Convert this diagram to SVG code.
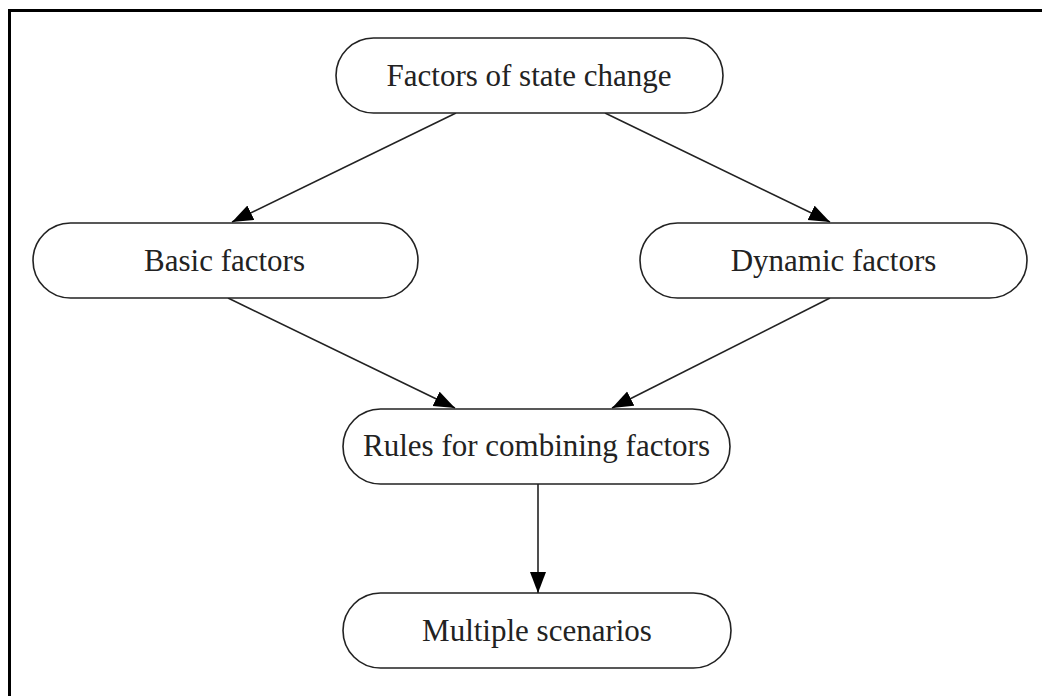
<svg xmlns="http://www.w3.org/2000/svg" width="1042" height="696" viewBox="0 0 1042 696">
  <style>
    .node rect { fill: #ffffff; stroke: #222222; stroke-width: 1.6; }
    .node text { font-family: "Liberation Serif", "Times New Roman", serif; font-size: 31px; fill: #222222; text-anchor: middle; }
    .edge { stroke: #222222; stroke-width: 1.6; fill: none; marker-end: url(#arrow); }
  </style>
  <defs>
    <marker id="arrow" markerUnits="userSpaceOnUse" markerWidth="22" markerHeight="18" refX="21" refY="8" orient="auto">
      <path d="M0,0 L21,8 L0,16 Z" fill="#000000"/>
    </marker>
  </defs>

  <rect width="1042" height="696" fill="#ffffff"/>
  <!-- frame: top and left edges -->
  <path d="M9.5,696 V10.5 H1042" fill="none" stroke="#000000" stroke-width="3"/>

  <g id="connectors">
    <line class="edge" x1="456" y1="113" x2="232" y2="222"/>
    <line class="edge" x1="605" y1="113" x2="830" y2="222"/>
    <line class="edge" x1="228" y1="298" x2="455" y2="408"/>
    <line class="edge" x1="830" y1="298" x2="612" y2="408"/>
    <line class="edge" x1="538" y1="484" x2="538" y2="593"/>
  </g>

  <g id="factors-of-state-change" class="node">
    <rect x="336" y="38" width="387" height="75" rx="37.5" ry="37.5"/>
    <text x="529" y="85.5">Factors of state change</text>
  </g>
  <g id="basic-factors" class="node">
    <rect x="33" y="223" width="385" height="75" rx="37.5" ry="37.5"/>
    <text x="224.5" y="270.5">Basic factors</text>
  </g>
  <g id="dynamic-factors" class="node">
    <rect x="640" y="223" width="387" height="75" rx="37.5" ry="37.5"/>
    <text x="833.5" y="270.5">Dynamic factors</text>
  </g>
  <g id="rules-for-combining-factors" class="node">
    <rect x="343" y="409" width="387" height="75" rx="37.5" ry="37.5"/>
    <text x="536.5" y="456">Rules for combining factors</text>
  </g>
  <g id="multiple-scenarios" class="node">
    <rect x="343" y="593" width="388" height="75" rx="37.5" ry="37.5"/>
    <text x="537" y="640.5">Multiple scenarios</text>
  </g>
</svg>
